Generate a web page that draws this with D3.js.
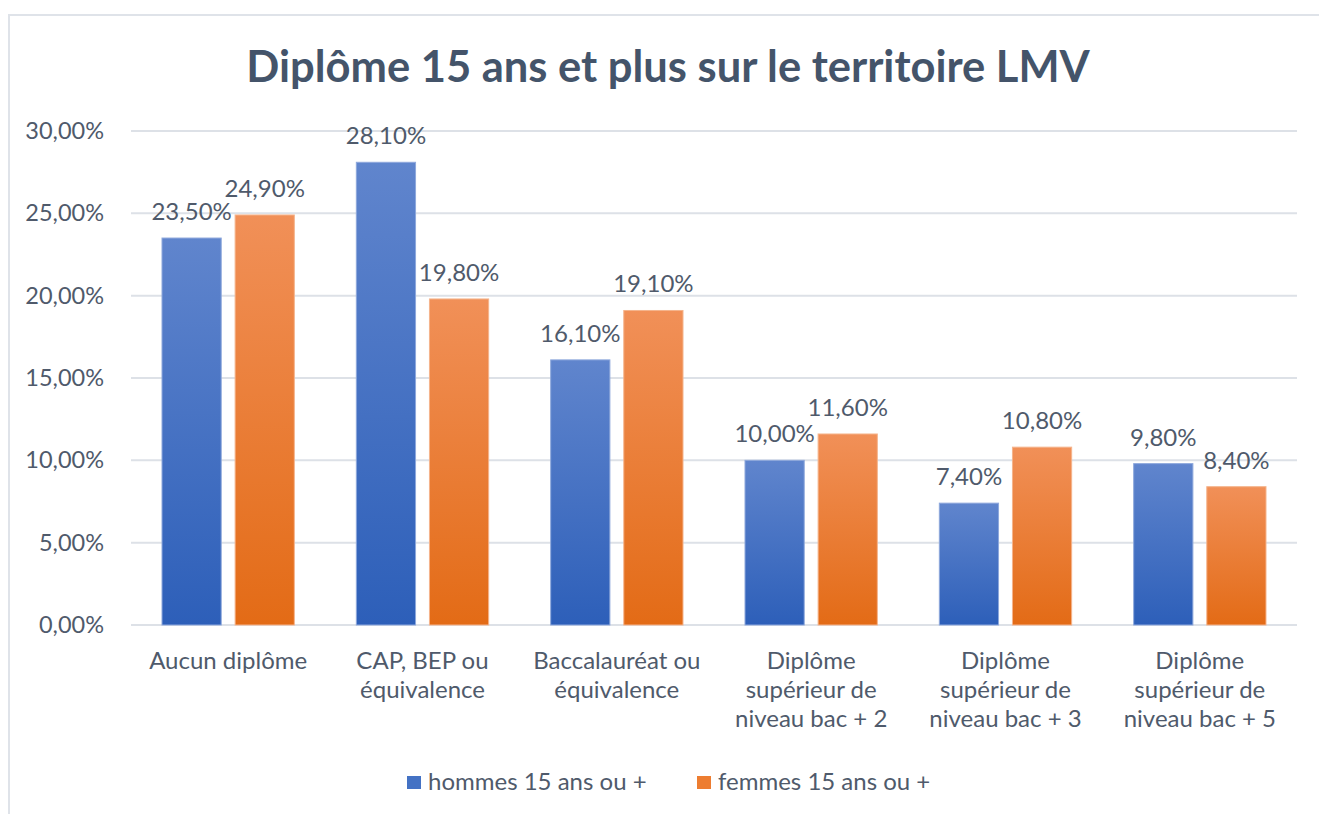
<!DOCTYPE html>
<html>
<head>
<meta charset="utf-8">
<script src="https://cdn.jsdelivr.net/npm/d3@7"></script>
<style>
  body { margin: 0; background: #fff; }
  svg { display: block; font-family: Lato, "Open Sans", sans-serif; }
</style>
</head>
<body>
<div id="chart"></div>
<script>
var categories = [
  ["Aucun diplôme"],
  ["CAP, BEP ou", "équivalence"],
  ["Baccalauréat ou", "équivalence"],
  ["Diplôme", "supérieur de", "niveau bac + 2"],
  ["Diplôme", "supérieur de", "niveau bac + 3"],
  ["Diplôme", "supérieur de", "niveau bac + 5"]
];
var hommes = [23.5, 28.1, 16.1, 10.0, 7.4, 9.8];
var femmes = [24.9, 19.8, 19.1, 11.6, 10.8, 8.4];
var seriesNames = ["hommes 15 ans ou +", "femmes 15 ans ou +"];
var yTicks = [0, 5, 10, 15, 20, 25, 30];

var width = 1319, height = 814;
var margin = {left: 131, right: 22, top: 131, bottom: 189};
var textColor = "#4f5a6b";
var fs = "24px";

var svg = d3.select("#chart").append("svg")
    .attr("width", width)
    .attr("height", height);

var defs = svg.append("defs");
function grad(id, top, bottom) {
  var g = defs.append("linearGradient").attr("id", id)
      .attr("x1", 0).attr("y1", 0).attr("x2", 0).attr("y2", 1);
  g.append("stop").attr("offset", "0%").attr("stop-color", top);
  g.append("stop").attr("offset", "100%").attr("stop-color", bottom);
}
grad("gBlue", "#6085cd", "#2d5fb9");
grad("gOrange", "#f19058", "#e36b16");
var fills = ["url(#gBlue)", "url(#gOrange)"];
var strokes = ["#8ea8dc", "#f5b48c"];
var legendColors = ["#4472c4", "#ed7d31"];

// chart frame
svg.append("rect")
    .attr("x", 9).attr("y", 15)
    .attr("width", width + 10).attr("height", height + 10)
    .attr("fill", "none")
    .attr("stroke", "#dfe3e9")
    .attr("stroke-width", 2);

svg.append("text")
    .attr("x", 668).attr("y", 82)
    .attr("text-anchor", "middle")
    .attr("fill", "#44546a")
    .attr("font-size", "43.5px")
    .attr("font-weight", "bold")
    .text("Diplôme 15 ans et plus sur le territoire LMV");

var x0 = d3.scaleBand()
    .domain(d3.range(categories.length))
    .range([margin.left, width - margin.right])
    .paddingInner(0)
    .paddingOuter(0);

var x1 = d3.scaleBand()
    .domain([0, 1])
    .range([31, x0.bandwidth() - 31])
    .paddingInner(0.19);

var y = d3.scaleLinear()
    .domain([0, 30])
    .range([height - margin.bottom, margin.top]);

// gridlines
svg.append("g").selectAll("line")
  .data(yTicks)
  .enter().append("line")
    .attr("x1", margin.left).attr("x2", width - margin.right)
    .attr("y1", function(d) { return y(d); })
    .attr("y2", function(d) { return y(d); })
    .attr("stroke", "#dde1e7")
    .attr("stroke-width", 2);

var yAxis = svg.append("g")
    .attr("transform", "translate(107,0)")
    .call(d3.axisLeft(y).tickValues(yTicks).tickSize(0)
      .tickFormat(function(d) { return d3.format(".2f")(d).replace(".", ",") + "%"; }));
yAxis.select(".domain").remove();
yAxis.selectAll("text")
    .attr("fill", textColor)
    .attr("font-size", "23.5px")
    .attr("font-family", "Lato, sans-serif");

var data = categories.map(function(c, i) { return [hommes[i], femmes[i]]; });

var groups = svg.append("g").selectAll("g")
  .data(data)
  .enter().append("g")
    .attr("transform", function(d, i) { return "translate(" + x0(i) + ",0)"; });

groups.selectAll("rect")
  .data(function(d) { return d; })
  .enter().append("rect")
    .attr("x", function(d, j) { return x1(j); })
    .attr("y", function(d) { return y(d); })
    .attr("width", x1.bandwidth())
    .attr("height", function(d) { return y(0) - y(d); })
    .attr("fill", function(d, j) { return fills[j]; })
    .attr("stroke", function(d, j) { return strokes[j]; })
    .attr("stroke-width", 1);

groups.selectAll("text.val")
  .data(function(d) { return d; })
  .enter().append("text")
    .attr("class", "val")
    .attr("x", function(d, j) { return x1(j) + x1.bandwidth() / 2; })
    .attr("y", function(d) { return y(d) - 18; })
    .attr("text-anchor", "middle")
    .attr("fill", textColor)
    .attr("font-size", fs)
    .text(function(d) { return d3.format(".2f")(d).replace(".", ",") + "%"; });

// category labels
var xl = svg.append("g").selectAll("text")
  .data(categories)
  .enter().append("text")
    .attr("x", function(d, i) { return x0(i) + x0.bandwidth() / 2; })
    .attr("y", 669)
    .attr("text-anchor", "middle")
    .attr("fill", textColor)
    .attr("font-size", fs);
xl.selectAll("tspan")
  .data(function(d) { return d; })
  .enter().append("tspan")
    .attr("x", function() { return d3.select(this.parentNode).attr("x"); })
    .attr("dy", function(d, k) { return k === 0 ? 0 : 29; })
    .text(function(d) { return d; });

// legend
var legX = [407, 697];
var leg = svg.append("g").selectAll("g")
  .data(seriesNames)
  .enter().append("g")
    .attr("transform", function(d, i) { return "translate(" + legX[i] + ",776)"; });
leg.append("rect")
    .attr("width", 14).attr("height", 13)
    .attr("fill", function(d, i) { return legendColors[i]; });
leg.append("text")
    .attr("x", 21).attr("y", 14)
    .attr("fill", textColor)
    .attr("font-size", fs)
    .text(function(d) { return d; });
</script>
</body>
</html>
